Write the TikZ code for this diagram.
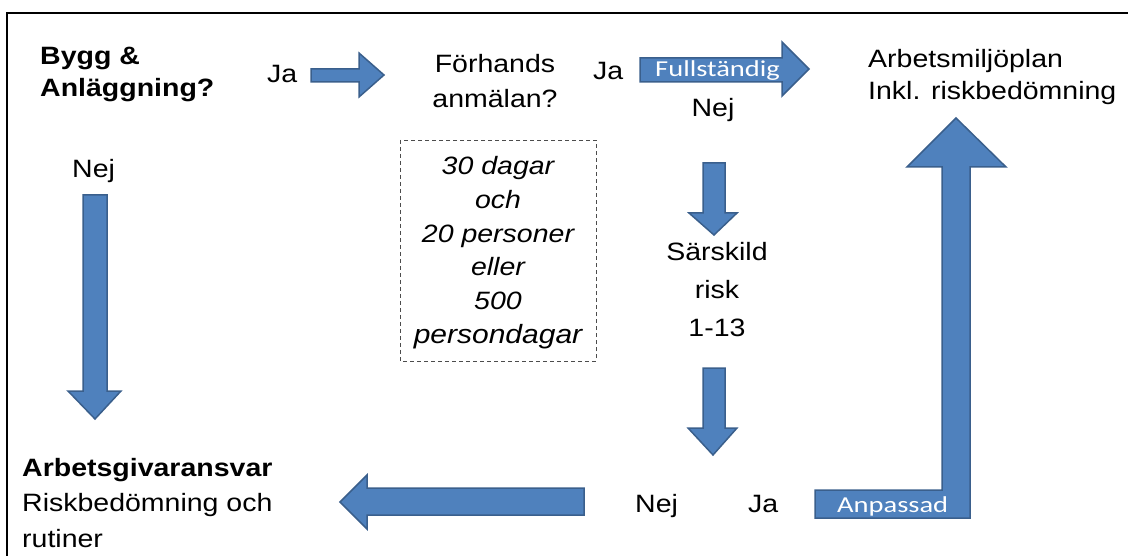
\documentclass[tikz,border=0pt]{standalone}
\usepackage{fontspec}
\setmainfont{Liberation Sans}
\newfontfamily\calibri{Carlito}
\usepackage{tikz}
\usetikzlibrary{positioning}
\usepackage{xcolor}
\definecolor{pilblue}{HTML}{4F81BD}
\definecolor{pilkant}{HTML}{3A5F8C}

\begin{document}
\begin{tikzpicture}[x=1pt, y=-1pt,
        txt/.style={inner sep=0pt, yscale=.88, font=\fontsize{28.5}{36.5}\selectfont},
        fet/.style={txt, font=\fontsize{28.5}{36.5}\selectfont\bfseries},
        pil/.style={fill=pilblue, draw=pilkant, line width=1.5pt, line join=miter},
        pilord/.style={inner sep=0pt, yscale=.8, text=white, font=\calibri\fontsize{28.5}{34}\selectfont}]
        \useasboundingbox (0,0) rectangle (1128,556);
        \draw[line width=1.4pt] (7,560) -- (7,13) -- (1130,13);
        % pilar
        \draw[pil] (311,69) -- (359,69) -- (359,53) -- (384,75) -- (359,97) -- (359,82) -- (311,82) -- cycle;
        \draw[pil] (640,58) -- (782,58) -- (782,42) -- (809,69) -- (782,96) -- (782,82) -- (640,82) -- cycle;
        \draw[pil] (83,195) -- (107,195) -- (107,391) -- (121,391) -- (95,419) -- (68,391) -- (83,391) -- cycle;
        \draw[pil] (703,163) -- (725,163) -- (725,213) -- (737,213) -- (714,235) -- (689,213) -- (703,213) -- cycle;
        \draw[pil] (703,368) -- (725,368) -- (725,428) -- (737,428) -- (713,455) -- (688,428) -- (703,428) -- cycle;
        \draw[pil] (584,488) -- (367,488) -- (367,475) -- (340,502) -- (367,529) -- (367,515) -- (584,515) -- cycle;
        \draw[pil] (815,490) -- (942,490) -- (942,167) -- (907,167) -- (956,118) -- (1006,167) -- (970,167) -- (970,518) -- (815,518) -- cycle;
        \node[pilord, anchor=base west] (full) at (655,77) {Fullständig};
        \node[pilord, anchor=base west] (anpassad) at (837,512) {Anpassad};
        % texter (base = sista raden)
        \node[fet, anchor=base west, align=left] (bygg) at (40,97) {Bygg \&\\Anläggning?};
        \node[txt, anchor=base west] (ja1) at (267,83) {Ja};
        \node[txt, anchor=base, align=center, font=\fontsize{28.5}{40}\selectfont] (forhands) at (495,108) {Förhands\\anmälan?};
        \node[txt, anchor=base west] (ja2) at (593,80) {Ja};
        \node[txt, anchor=base] (nej1) at (713,117) {Nej};
        \node[txt, anchor=base west, align=left] (plan) at (868,100) {Arbetsmiljöplan\\Inkl. riskbedömning};
        \node[txt, anchor=base west] (nej0) at (72,178) {Nej};
        \draw[dashed, dash pattern=on 4pt off 3pt, gray!60!black] (400,140) rectangle (596,361);
        \node[txt, anchor=base, align=center, font=\fontsize{28.5}{38.2}\selectfont\itshape] (villkor) at (498,343)
            {30 dagar\\och\\20 personer\\eller\\500\\{\fontsize{30}{38.2}\selectfont persondagar}};
        \node[txt, anchor=base, align=center, font=\fontsize{28.5}{43.7}\selectfont] (sarskild) at (717,337) {Särskild\\risk\\1-13};
        \node[txt, anchor=base west] (nej2) at (635,512) {Nej};
        \node[txt, anchor=base west] (ja3) at (748,512) {Ja};
        \node[txt, anchor=base west, align=left, font=\fontsize{28.5}{39.8}\selectfont] (ansvar) at (22,547)
            {\textbf{Arbetsgivaransvar}\\Riskbedömning och\\rutiner};
    \end{tikzpicture}
\end{document}
